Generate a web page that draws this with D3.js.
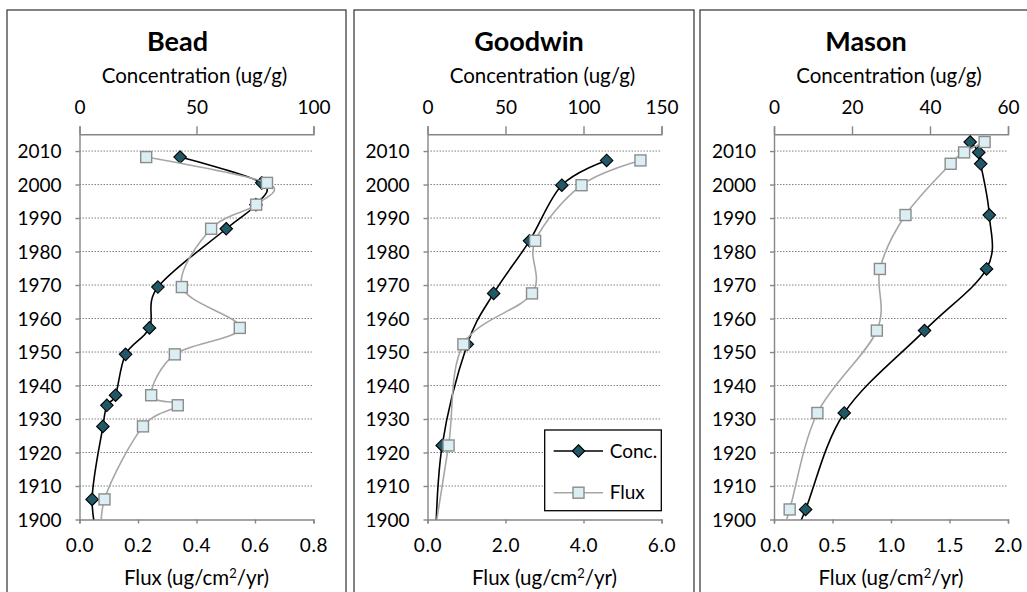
<!DOCTYPE html>
<html><head><meta charset="utf-8">
<script src="https://cdn.jsdelivr.net/npm/d3@7"></script>
<style>body{margin:0;background:#fff} svg text{font-family:Lato,"Open Sans",sans-serif;fill:#000}</style>
</head><body><svg id="c" width="1027" height="592"></svg>
<script>
// ---------- data ----------
const siteNames = ["Bead", "Goodwin", "Mason"];
const seriesNames = ["Conc.", "Flux"];
const yearTicks = [1900, 1910, 1920, 1930, 1940, 1950, 1960, 1970, 1980, 1990, 2000, 2010];

const beadYears = [2008.2, 2000.5, 1994.0, 1986.8, 1969.4, 1957.2, 1949.3, 1937.1, 1934.1, 1927.8, 1906.0, 1890.0];
const beadConc  = [43.0, 77.9, 75.4, 62.7, 33.5, 29.9, 19.7, 15.4, 11.7, 10.0, 5.4, 9.0];
const beadFlux  = [0.228, 0.641, 0.604, 0.450, 0.350, 0.548, 0.326, 0.245, 0.336, 0.217, 0.0855, 0.080];
const beadConcTicks = [0, 50, 100];
const beadFluxTicks = [0, 0.2, 0.4, 0.6, 0.8];

const goodwinYears = [2007.2, 1999.8, 1983.2, 1967.5, 1952.3, 1922.1, 1890.0];
const goodwinConc  = [114.8, 86.1, 65.4, 42.4, 25.5, 9.4, 5.0];
const goodwinFlux  = [5.46, 3.95, 2.76, 2.68, 0.92, 0.54, 0.10];
const goodwinConcTicks = [0, 50, 100, 150];
const goodwinFluxTicks = [0, 2, 4, 6];

const masonYears = [2012.7, 2009.6, 2006.2, 1990.9, 1974.8, 1956.4, 1931.8, 1903.0, 1890.0];
const masonConc  = [50.3, 52.5, 53.0, 55.2, 54.5, 38.6, 18.0, 8.1, 3.5];
const masonFlux  = [1.80, 1.625, 1.51, 1.124, 0.905, 0.879, 0.371, 0.134, 0.02];
const masonConcTicks = [0, 20, 40, 60];
const masonFluxTicks = [0, 0.5, 1.0, 1.5, 2.0];

// ---------- layout ----------
const panelLeft = [7, 354, 700];
const panelW = 340;
const plotLeft = [79.5, 427.5, 774];
const plotW = 234;
const plotTop = 134.3, plotBottom = 519.5;
const titleX = [177.5, 529, 866];

const panels = [
  {name: siteNames[0], years: beadYears, conc: beadConc, flux: beadFlux, cTicks: beadConcTicks, fTicks: beadFluxTicks},
  {name: siteNames[1], years: goodwinYears, conc: goodwinConc, flux: goodwinFlux, cTicks: goodwinConcTicks, fTicks: goodwinFluxTicks},
  {name: siteNames[2], years: masonYears, conc: masonConc, flux: masonFlux, cTicks: masonConcTicks, fTicks: masonFluxTicks}
];

const svg = d3.select("#c");
const AX = "#868686";
const CONC_FILL = "#205867", SQ_FILL = "#dbeef4", SQ_STROKE = "#8c8c8c", FLUX_LINE = "#a6a6a6";
const TICK_FS = "19px", TITLE_FS = "20.5px";
const diamond = d3.symbol().type(d3.symbolDiamond2 || d3.symbolDiamond).size(100);

const y = d3.scaleLinear().domain([1900, 2015]).range([plotBottom, plotTop]);
const curve = d3.curveCatmullRom.alpha(0);

panels.forEach((p, i) => {
  const g = svg.append("g");
  g.append("rect").attr("x", panelLeft[i]).attr("y", 10).attr("width", i === 0 ? 339 : panelW).attr("height", 640)
    .attr("fill", "none").attr("stroke", "#404040").attr("stroke-width", 1.3);

  const x0 = plotLeft[i], x1 = plotLeft[i] + plotW;
  const xc = d3.scaleLinear().domain([p.cTicks[0], p.cTicks[p.cTicks.length - 1]]).range([x0, x1]);
  const xf = d3.scaleLinear().domain([p.fTicks[0], p.fTicks[p.fTicks.length - 1]]).range([x0, x1]);

  g.append("text").attr("x", titleX[i]).attr("y", 50.7).attr("text-anchor", "middle")
    .style("font-size", "27px").style("font-weight", "bold").text(p.name);
  g.append("text").attr("x", (x0 + x1) / 2 - 2).attr("y", 83.3).attr("text-anchor", "middle")
    .style("font-size", TITLE_FS).text("Concentration (ug/g)");
  const ft = g.append("text").attr("x", (x0 + x1) / 2).attr("y", 585).attr("text-anchor", "middle")
    .style("font-size", TITLE_FS);
  ft.append("tspan").text("Flux (ug/cm");
  ft.append("tspan").attr("dy", -7).style("font-size", "13px").text("2");
  ft.append("tspan").attr("dy", 7).text("/yr)");

  g.append("g").selectAll("line").data(yearTicks.filter(t => t > 1900)).join("line")
    .attr("x1", x0).attr("x2", x1).attr("y1", d => y(d)).attr("y2", d => y(d))
    .attr("stroke", "#808080").attr("stroke-width", 1).attr("stroke-dasharray", "1.5,1.5");

  const styleAxis = a => {
    a.selectAll("path,line").attr("stroke", AX).attr("stroke-width", 1.4);
    a.selectAll("text").style("font-size", TICK_FS).attr("fill", "#000").style("font-family", 'Lato,"Open Sans",sans-serif');
  };
  const at = g.append("g").attr("transform", `translate(0,${plotTop})`)
    .call(d3.axisTop(xc).tickValues(p.cTicks).tickFormat(d3.format("d")).tickSize(8).tickSizeOuter(8).tickPadding(12));
  styleAxis(at);
  const ab = g.append("g").attr("transform", `translate(0,${plotBottom})`)
    .call(d3.axisBottom(xf).tickValues(p.fTicks).tickFormat(d3.format(".1f")).tickSize(4).tickSizeOuter(4));
  styleAxis(ab);
  ab.selectAll("text").attr("y", 32.8).attr("dy", null).style("letter-spacing", "0.6px");
  const al = g.append("g").attr("transform", `translate(${x0},0)`)
    .call(d3.axisLeft(y).tickValues(yearTicks).tickFormat(d3.format("d")).tickSize(4).tickSizeOuter(0).tickPadding(14));
  styleAxis(al);
  al.selectAll("text").attr("dy", "0.35em");

  const cid = "clip" + i;
  svg.append("clipPath").attr("id", cid).append("rect").attr("x", x0).attr("y", plotTop).attr("width", plotW).attr("height", plotBottom - plotTop);

  const concPts = p.years.map((yr, k) => [xc(p.conc[k]), y(yr), yr]);
  const fluxPts = p.years.map((yr, k) => [xf(p.flux[k]), y(yr), yr]);
  const line = d3.line().curve(curve);

  g.append("path").attr("d", line(concPts)).attr("clip-path", `url(#${cid})`)
    .attr("fill", "none").attr("stroke", "#000").attr("stroke-width", 1.6);
  g.append("g").selectAll("path").data(concPts.filter(d => d[2] >= 1900)).join("path")
    .attr("transform", d => `translate(${d[0]},${d[1]})`).attr("d", diamond)
    .attr("fill", CONC_FILL).attr("stroke", "#000").attr("stroke-width", 1.1);

  g.append("path").attr("d", line(fluxPts)).attr("clip-path", `url(#${cid})`)
    .attr("fill", "none").attr("stroke", FLUX_LINE).attr("stroke-width", 1.6);
  g.append("g").selectAll("rect").data(fluxPts.filter(d => d[2] >= 1900)).join("rect")
    .attr("x", d => d[0] - 5.5).attr("y", d => d[1] - 5.5).attr("width", 11).attr("height", 11)
    .attr("fill", SQ_FILL).attr("stroke", SQ_STROKE).attr("stroke-width", 1.4);

  if (i === 1) {
    const lg = g.append("g");
    lg.append("rect").attr("x", 544.7).attr("y", 430).attr("width", 116.6).attr("height", 80.7)
      .attr("fill", "#fff").attr("stroke", "#000").attr("stroke-width", 1.3);
    const items = [
      {label: seriesNames[0], color: "#000", ly: 451},
      {label: seriesNames[1], color: FLUX_LINE, ly: 492.7}
    ];
    items.forEach((it, k) => {
      lg.append("line").attr("x1", 553.7).attr("x2", 603).attr("y1", it.ly).attr("y2", it.ly)
        .attr("stroke", it.color).attr("stroke-width", 1.6);
      if (k === 0) {
        lg.append("path").attr("transform", `translate(578.5,${it.ly})`).attr("d", diamond)
          .attr("fill", CONC_FILL).attr("stroke", "#000").attr("stroke-width", 1.1);
      } else {
        lg.append("rect").attr("x", 578.5 - 5.5).attr("y", it.ly - 5.5).attr("width", 11).attr("height", 11)
          .attr("fill", SQ_FILL).attr("stroke", SQ_STROKE).attr("stroke-width", 1.4);
      }
      lg.append("text").attr("x", 609.7).attr("y", it.ly).attr("dy", "0.35em")
        .style("font-size", TICK_FS).text(it.label);
    });
  }
});
</script></body></html>
